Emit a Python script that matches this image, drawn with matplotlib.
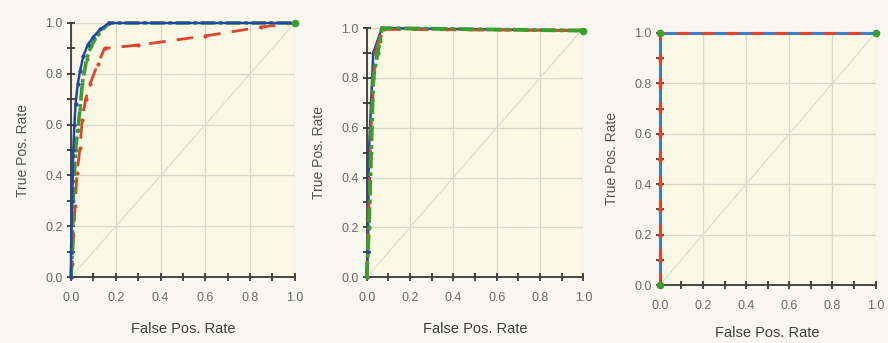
import matplotlib
matplotlib.use("Agg")
import matplotlib.pyplot as plt
from matplotlib.ticker import MultipleLocator

plt.rcParams['font.family'] = ['Liberation Sans', 'DejaVu Sans']

# ---- data ----
# Panel 1
p1_blue_fpr = [0.0, 0.0, 0.005, 0.01, 0.015, 0.02, 0.03, 0.04, 0.055, 0.075, 0.10, 0.13, 0.17, 1.0]
p1_blue_tpr = [0.0, 0.1, 0.3, 0.5, 0.6, 0.68, 0.76, 0.81, 0.87, 0.915, 0.945, 0.975, 1.0, 1.0]
p1_red_fpr = [0.0, 0.005, 0.018, 0.027, 0.04, 0.05, 0.065, 0.085, 0.12, 0.15, 0.3, 0.6, 0.85, 1.0]
p1_red_tpr = [0.0, 0.05, 0.28, 0.41, 0.51, 0.62, 0.70, 0.76, 0.84, 0.90, 0.913, 0.949, 0.984, 1.0]
p1_green_fpr = [0.0, 0.005, 0.01, 0.02, 0.03, 0.04, 0.05, 0.07, 0.09, 0.12, 0.17, 1.0]
p1_green_tpr = [0.0, 0.1, 0.3, 0.5, 0.58, 0.66, 0.76, 0.86, 0.91, 0.955, 1.0, 1.0]

# Panel 2
p2_blue_fpr = [0.0, 0.005, 0.01, 0.02, 0.03, 0.05, 0.07, 1.0]
p2_blue_tpr = [0.0, 0.1, 0.5, 0.7, 0.9, 0.95, 1.0, 0.99]
p2_red_fpr = [0.0, 0.01, 0.02, 0.04, 0.06, 0.08, 1.0]
p2_red_tpr = [0.0, 0.3, 0.6, 0.9, 0.97, 0.995, 0.99]
p2_green_fpr = [0.0, 0.01, 0.02, 0.03, 0.05, 0.06, 0.07, 1.0]
p2_green_tpr = [0.0, 0.2, 0.5, 0.8, 0.9, 0.95, 1.0, 0.99]

# Panel 3
p3_fpr = [0.0, 0.0, 0.0, 0.0, 0.0, 0.0, 0.0, 0.0, 0.0, 0.0, 0.0, 1.0]
p3_tpr = [0.0, 0.1, 0.2, 0.3, 0.4, 0.5, 0.6, 0.7, 0.8, 0.9, 1.0, 1.0]
p3_green_fpr = [0.0, 0.0, 1.0]
p3_green_tpr = [0.0, 1.0, 1.0]

tick_values = [0.0, 0.2, 0.4, 0.6, 0.8, 1.0]
tick_labels = ['0.0', '0.2', '0.4', '0.6', '0.8', '1.0']

BLUE = '#2346a8'
RED = '#e0452c'
GREEN = '#3c9e2c'
BG = '#fbf9e6'
FIG_BG = '#f8f7f0'

fig = plt.figure(figsize=(8.88, 3.43), dpi=100, facecolor=FIG_BG)

positions = [
    [0.080, 0.192, 0.252, 0.741],
    [0.413, 0.192, 0.244, 0.726],
    [0.743, 0.169, 0.243, 0.735],
]
xlabel_pads = [13, 13, 10]


def style_axes(ax, xpad):
    ax.set_facecolor(BG)
    ax.set_xlim(0, 1)
    ax.set_ylim(0, 1)
    for s in ['top', 'right']:
        ax.spines[s].set_visible(False)
    for s in ['left', 'bottom']:
        ax.spines[s].set_color('#3a3a3a')
        ax.spines[s].set_linewidth(1.3)
        ax.spines[s].set_zorder(1)
    ax.set_xticks(tick_values)
    ax.set_xticklabels(tick_labels)
    ax.set_yticks(tick_values)
    ax.set_yticklabels(tick_labels)
    ax.xaxis.set_minor_locator(MultipleLocator(0.1))
    ax.yaxis.set_minor_locator(MultipleLocator(0.1))
    ax.tick_params(which='both', direction='inout', length=6, width=1.3,
                   color='#3a3a3a', labelsize=9, labelcolor='#6a6a6a')
    ax.tick_params(axis='x', which='major', pad=8)
    ax.tick_params(axis='y', which='major', pad=3)
    ax.grid(True, which='major', color='#d9d8cc', linewidth=1.0)
    ax.set_axisbelow(True)
    ax.plot([0, 1], [0, 1], color='#dcdcd4', linewidth=0.9, zorder=1)
    ax.set_xlabel('False Pos. Rate', fontsize=10.5, color='#404040', labelpad=xpad)
    ax.set_ylabel('True Pos. Rate', fontsize=10, color='#555555', labelpad=11)


axes = [fig.add_axes(p) for p in positions]
for ax, xp in zip(axes, xlabel_pads):
    style_axes(ax, xp)

ax1, ax2, ax3 = axes
mk = dict(marker='o', markersize=2, clip_on=False)

ax1.plot(p1_red_fpr, p1_red_tpr, color=RED, linewidth=2.0, linestyle=(0, (6, 4)), zorder=3, **mk)
ax1.plot(p1_green_fpr, p1_green_tpr, color=GREEN, linewidth=2.6, linestyle=(0, (4, 1, 1, 1)), zorder=4, **mk)
ax1.plot(p1_blue_fpr, p1_blue_tpr, color=BLUE, linewidth=1.8, zorder=5, **mk)

ax2.plot(p2_blue_fpr, p2_blue_tpr, color=BLUE, linewidth=1.8, zorder=3, **mk)
ax2.plot(p2_red_fpr, p2_red_tpr, color=RED, linewidth=2.0, linestyle=(0, (6, 4)), zorder=4, **mk)
ax2.plot(p2_green_fpr, p2_green_tpr, color=GREEN, linewidth=2.8, linestyle=(0, (4, 1, 1, 1)), zorder=5, **mk)

ax3.plot(p3_fpr, p3_tpr, color='#3a7fc8', linewidth=2.2, zorder=3, **mk)
ax3.plot(p3_fpr, p3_tpr, color=RED, linewidth=2.2, linestyle=(0, (4, 4)), zorder=4,
         marker='o', markersize=2.5, clip_on=False)
ax3.plot(p3_green_fpr, p3_green_tpr, color=GREEN, linestyle='none', marker='o', markersize=4.5,
         clip_on=False, zorder=6)
ax1.plot([1.0], [1.0], color=GREEN, marker='o', markersize=4.5, clip_on=False, zorder=6)
ax2.plot([1.0], [0.99], color=GREEN, marker='o', markersize=4.5, clip_on=False, zorder=6)

fig.savefig('out.png', dpi=100, facecolor=FIG_BG)
